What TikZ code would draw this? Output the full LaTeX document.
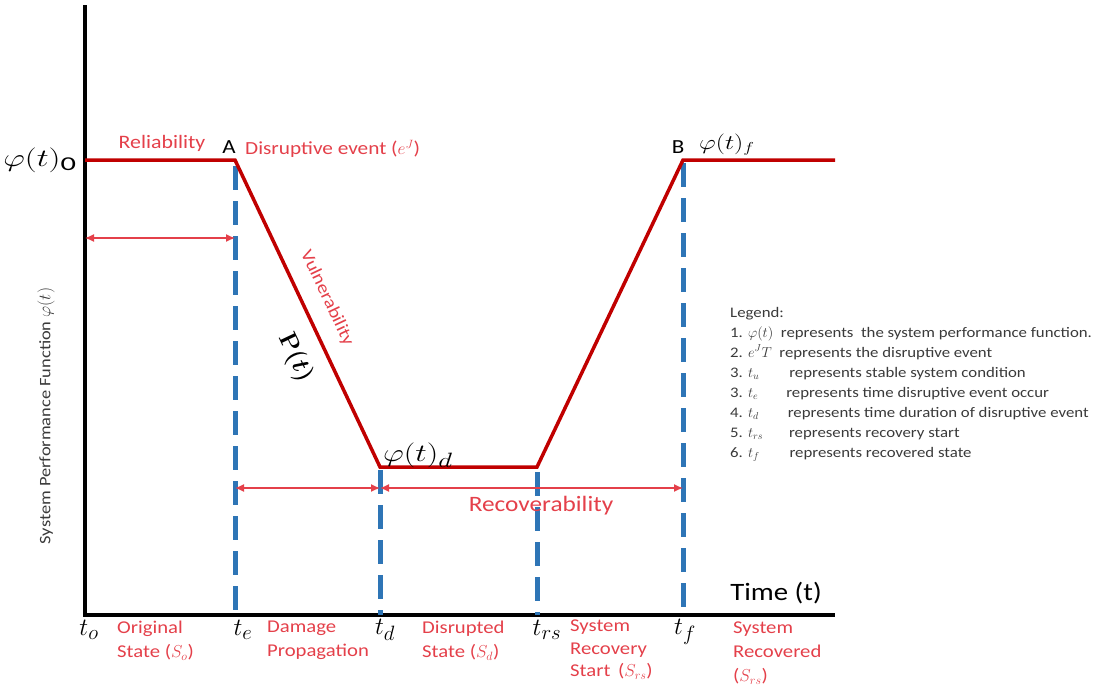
\documentclass[tikz,border=0pt]{standalone}
\usepackage{amsmath}
\usepackage{graphicx}
\usepackage[no-math]{fontspec}
\setmainfont{Carlito}[FakeStretch=1.15]
\usepackage{tikz}
\usetikzlibrary{arrows.meta, positioning}
\definecolor{respred}{HTML}{C00000}
\definecolor{resptext}{HTML}{E4404A}
\definecolor{respblue}{HTML}{2E75B6}
\definecolor{respgray}{HTML}{3A3A3A}
\newcommand{\widemath}[2][1.3]{\scalebox{#1}[1]{#2}}

\begin{document}
\begin{tikzpicture}[x=1pt,y=-1pt,
    curve/.style={respred, line width=3.5pt, line join=miter},
    marker/.style={respblue, line width=5pt, dash pattern=on 24pt off 11pt},
    span/.style={resptext, line width=1.3pt, {Latex[length=9pt,width=8pt]}-{Latex[length=9pt,width=8pt]}},
    redlab/.style={text=resptext, font=\fontsize{18}{24}\selectfont, align=left, inner sep=0pt},
    tlab/.style={font=\fontsize{30}{32}\selectfont, inner sep=0pt},
    philab/.style={font=\fontsize{28}{30}\selectfont, inner sep=0pt}]
  \useasboundingbox (0,0) rectangle (1100,696);
  % axes
  \coordinate (top) at (85,5);
  \coordinate (orig) at (85,615);
  \coordinate (xend) at (835,615);
  \draw[line width=4.5pt] (top) -- (orig) -- (xend);
  % performance curve points
  \coordinate (start) at (85,160);
  \coordinate (A) at (235,160);
  \coordinate (D1) at (380,467);
  \coordinate (D2) at (537,467);
  \coordinate (B) at (683,160);
  \coordinate (fin) at (835,160);
  % time marks on the axis
  \coordinate (te) at (235,615);
  \coordinate (td) at (380,615);
  \coordinate (trs) at (537,615);
  \coordinate (tf) at (683,615);
  \draw[marker] (235,166) -- (te);
  \draw[marker] (380,470) -- (td);
  \draw[marker] (537,472) -- (trs);
  \draw[marker] (683,163) -- (tf);
  % curve
  \draw[curve] (start) -- (A) -- (D1) -- (D2) -- (B) -- (fin);
  % spans
  \coordinate (r1) at (85,238);
  \coordinate (r2) at (235,238);
  \coordinate (v1) at (235,488);
  \coordinate (v2) at (380,488);
  \coordinate (v3) at (683,488);
  \draw[span] (r1) -- (r2);
  \draw[span] (v1) -- (v2);
  \draw[span] (v2) -- (v3);
  % curve labels
  \node[philab] (phi0) at (40,160) {\widemath[1.35]{$\varphi(t)_{\text{0}}$}};
  \node[redlab, font=\fontsize{19}{21}\selectfont] (rel) at (162,143) {Reliability};
  \node[font=\fontsize{20}{22}\selectfont, inner sep=0pt] (lA) at (229,147) {A};
  \node[redlab, anchor=west, font=\fontsize{18.5}{20}\selectfont] (dis) at (245,149) {Disruptive event ($e^J$)};
  \node[font=\fontsize{20}{22}\selectfont, inner sep=0pt] (lB) at (678,147) {B};
  \node[philab, anchor=west, font=\fontsize{22}{24}\selectfont] (phif) at (699,145) {\widemath[1.25]{$\varphi(t)_f$}};
  \node[redlab, rotate=-64.7, font=\fontsize{17.5}{19}\selectfont] (vul) at (327,298) {Vulnerability};
  \node[rotate=-64.7, font=\fontsize{28}{30}\selectfont, inner sep=0pt] (ploss) at (295,358) {$\boldsymbol{\mathrm{P}}\boldsymbol{(t)}$};
  \node[philab, anchor=west, font=\fontsize{29}{31}\selectfont] (phid) at (383,455) {\widemath{$\varphi(t)_d$}};
  \node[redlab, font=\fontsize{22}{24}\selectfont] (rec) at (541,506) {Recoverability};
  \node[font=\fontsize{25}{27}\selectfont, inner sep=0pt] (time) at (776,593) {Time (t)};
  \node[rotate=90, text=respgray, font=\fontsize{16}{18}\selectfont, inner sep=0pt] (ylab) at (46,416) {System Performance Function $\varphi(t)$};
  % time labels
  \node[tlab] (lto) at (89,630) {$t_o$};
  \node[tlab] (lte) at (243,630) {$t_e$};
  \node[tlab] (ltd) at (385,630) {$t_d$};
  \node[tlab] (ltrs) at (547,630) {$t_{rs}$};
  \node[tlab] (ltf) at (685,632) {$t_f$};
  % state labels
  \node[redlab, anchor=north west] (s1) at (117,621) {Original\\State ($S_o$)};
  \node[redlab, anchor=north west] (s2) at (267,621) {Damage\\Propagation};
  \node[redlab, anchor=north west] (s3) at (422,621) {Disrupted\\State ($S_d$)};
  \node[redlab, anchor=north west, font=\fontsize{18}{22.5}\selectfont] (s4) at (570,620) {System\\Recovery\\Start \,($S_{rs}$)};
  \node[redlab, anchor=north west] (s5) at (733,622) {System\\Recovered\\($S_{rs}$)};
  % legend
  \node[anchor=north west, text=respgray, font=\fontsize{14.6}{20}\selectfont, inner sep=0pt] (legend) at (730,303) {%
    \begin{tabular}{@{}l@{}}
    Legend:\\
    1. $\varphi(t)$\ \ represents\ \ the system performance function.\\
    2. $e^J T$\ \ represents the disruptive event\\
    3. $t_u$\hspace{30pt}represents stable system condition\\
    3. $t_e$\hspace{28pt}represents time disruptive event occur\\
    4. $t_d$\hspace{29pt}represents time duration of disruptive event\\
    5. $t_{rs}$\hspace{26pt}represents recovery start\\
    6. $t_f$\hspace{30pt}represents recovered state
    \end{tabular}};
\end{tikzpicture}
\end{document}
